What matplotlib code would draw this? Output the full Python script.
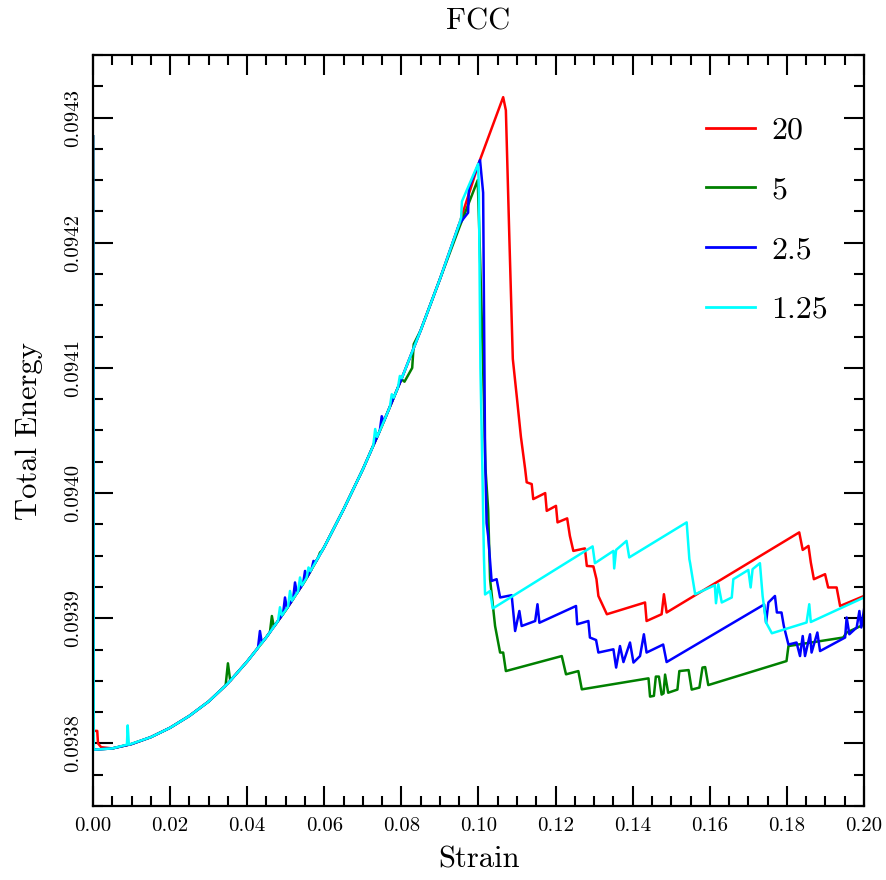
import matplotlib
matplotlib.use("Agg")
import matplotlib.pyplot as plt
from matplotlib.ticker import MultipleLocator, FormatStrFormatter

plt.rcParams['font.family'] = ['cmr10', 'DejaVu Serif']
plt.rcParams['mathtext.fontset'] = 'cm'
plt.rcParams['axes.formatter.use_mathtext'] = True

# ---------------- data ----------------
labels = ["20", "5", "2.5", "1.25"]
colors = ["red", "green", "blue", "cyan"]

red_strain = [0.0, 0.0001, 0.0011, 0.0013, 0.0021, 0.005, 0.010, 0.015, 0.020, 0.025, 0.030, 0.035,
              0.040, 0.045, 0.050, 0.055, 0.060, 0.065, 0.070, 0.075, 0.080, 0.085, 0.090,
              0.095, 0.100, 0.1064, 0.1071, 0.1080, 0.1089, 0.1100, 0.1110, 0.1121, 0.1125,
              0.1138, 0.1142, 0.1173, 0.1177, 0.1201, 0.1205, 0.1230, 0.1237, 0.1246, 0.1276,
              0.1281, 0.1298, 0.1306, 0.1311, 0.1333, 0.1432, 0.1436, 0.1475, 0.1481, 0.1488,
              0.1832, 0.1841, 0.1856, 0.1862, 0.1870, 0.1899, 0.1907, 0.1929, 0.1938, 0.2000]
red_energy = [0.094285, 0.093810, 0.093810, 0.093800, 0.093797, 0.093796, 0.0937995, 0.093805, 0.0938125,
              0.093822, 0.0938335, 0.093848, 0.0938655, 0.093885, 0.0939065, 0.093930, 0.093957,
              0.093987, 0.094019, 0.094054, 0.094091, 0.094130, 0.094171, 0.094215, 0.094263,
              0.0943163, 0.0943058, 0.0942043, 0.0941072, 0.094075, 0.094045, 0.0940192, 0.0940086,
              0.0940072, 0.0939952, 0.0940000, 0.0939858, 0.0939898, 0.0939766, 0.0939798, 0.0939658,
              0.0939538, 0.0939558, 0.0939418, 0.0939414, 0.0939312, 0.0939178, 0.0939032, 0.0939126,
              0.0938978, 0.0939032, 0.0939192, 0.0939046, 0.0939686, 0.0939546, 0.0939578, 0.0939446,
              0.0939312, 0.0939352, 0.0939246, 0.0939246, 0.0939098, 0.0939178]

green_strain = [0.0, 0.0002, 0.005, 0.010, 0.015, 0.020, 0.025, 0.030, 0.0344, 0.0350, 0.0356,
                0.040, 0.045, 0.0459, 0.0464, 0.0469, 0.050, 0.055, 0.0584, 0.0589, 0.0594,
                0.060, 0.065, 0.070, 0.075, 0.080, 0.0808, 0.0828, 0.0832, 0.085, 0.090, 0.095,
                0.0998, 0.1003, 0.1012, 0.1018, 0.1025, 0.1030, 0.1043, 0.1056, 0.1064, 0.1071,
                0.1216, 0.1227, 0.1259, 0.1268, 0.1441, 0.1445, 0.1455, 0.1460, 0.1468, 0.1475,
                0.1480, 0.1484, 0.1492, 0.1516, 0.1521, 0.1545, 0.1553, 0.1573, 0.1581, 0.1588,
                0.1596, 0.1799, 0.1804, 0.1946, 0.1955, 0.2000]
green_energy = [0.094285, 0.093795, 0.093796, 0.0937995, 0.093805, 0.0938125, 0.093822, 0.0938335,
                0.0938463, 0.093864, 0.0938501, 0.0938655, 0.093885, 0.0938889, 0.0939018, 0.0938932,
                0.0939065, 0.093930, 0.0939484, 0.0939526, 0.0939538, 0.093957, 0.093987, 0.094019,
                0.094054, 0.094091, 0.094089, 0.094100, 0.094119, 0.094130, 0.094171, 0.094212,
                0.094250, 0.094200, 0.094100, 0.094020, 0.093987, 0.0939312, 0.0938938, 0.0938726,
                0.0938726, 0.0938578, 0.0938698, 0.0938552, 0.0938578, 0.0938432, 0.0938520, 0.0938374,
                0.0938380, 0.0938534, 0.0938534, 0.0938390, 0.0938400, 0.0938550, 0.0938405, 0.0938430,
                0.0938578, 0.0938586, 0.0938430, 0.0938446, 0.0938606, 0.0938610, 0.0938466, 0.0938658,
                0.0938778, 0.0938846, 0.0938886, 0.0938950]

blue_strain = [0.0, 0.0002, 0.005, 0.010, 0.015, 0.020, 0.025, 0.030, 0.035, 0.040, 0.0428,
               0.0433, 0.0438, 0.045, 0.0493, 0.0498, 0.0503, 0.0519, 0.0524, 0.0529, 0.0545,
               0.0550, 0.0555, 0.0567, 0.0572, 0.0577, 0.060, 0.065, 0.070, 0.0744, 0.0749,
               0.0754, 0.080, 0.085, 0.090, 0.095, 0.0973, 0.0975, 0.1004, 0.1012, 0.1017,
               0.1021, 0.1025, 0.1034, 0.1047, 0.1056, 0.1086, 0.1095, 0.1106, 0.1112, 0.1147,
               0.1153, 0.1158, 0.1253, 0.1256, 0.1285, 0.1289, 0.1305, 0.1311, 0.1350, 0.1357,
               0.1367, 0.1376, 0.1393, 0.1402, 0.1419, 0.1429, 0.1436, 0.1479, 0.1488, 0.1741,
               0.1746, 0.1752, 0.1769, 0.1774, 0.1786, 0.1792, 0.1804, 0.1825, 0.1834, 0.1841,
               0.1847, 0.1860, 0.1864, 0.1879, 0.1886, 0.1951, 0.1955, 0.1962, 0.1981, 0.1988,
               0.1993, 0.2000]
blue_energy = [0.094285, 0.093795, 0.093796, 0.0937995, 0.093805, 0.0938125, 0.093822, 0.0938335,
               0.093848, 0.0938655, 0.0938764, 0.0938898, 0.0938803, 0.093885, 0.0939035, 0.0939166,
               0.0939079, 0.0939154, 0.0939286, 0.0939201, 0.0939276, 0.0939378, 0.0939327, 0.0939392,
               0.0939458, 0.0939446, 0.093957, 0.093987, 0.094019, 0.0940498, 0.0940614, 0.094057,
               0.094091, 0.094130, 0.094171, 0.094215, 0.094224, 0.094244, 0.094266, 0.094240,
               0.094033, 0.093976, 0.0939658, 0.0939298, 0.0939312, 0.0939166, 0.0939184, 0.0938898,
               0.0939058, 0.0938938, 0.0938978, 0.0939112, 0.0938964, 0.0939098, 0.0938952, 0.0938978,
               0.0938846, 0.0938826, 0.0938726, 0.0938752, 0.0938606, 0.0938778, 0.0938650, 0.0938806,
               0.0938646, 0.0938698, 0.0938872, 0.0938726, 0.0938790, 0.0938650, 0.0939110, 0.0938966,
               0.0939126, 0.0939178, 0.0939046, 0.0939046, 0.0938938, 0.0938790, 0.0938806, 0.0938698,
               0.0938858, 0.0938698, 0.0938872, 0.0938726, 0.0938886, 0.0938738, 0.0938846, 0.0939006,
               0.0938872, 0.0938926, 0.0939058, 0.0938926, 0.0939070]

cyan_strain = [0.0, 0.0002, 0.005, 0.0088, 0.0090, 0.0093, 0.015, 0.020, 0.025, 0.030, 0.035,
               0.040, 0.045, 0.0480, 0.0485, 0.0490, 0.0506, 0.0511, 0.0516, 0.0532, 0.0537,
               0.0542, 0.0554, 0.0559, 0.0564, 0.060, 0.065, 0.070, 0.0727, 0.0732, 0.0737,
               0.075, 0.0770, 0.0775, 0.0780, 0.0791, 0.0796, 0.0801, 0.085, 0.090, 0.095,
               0.0955, 0.0957, 0.0999, 0.1001, 0.1005, 0.1010, 0.1014, 0.1017, 0.1030, 0.1037,
               0.1296, 0.1302, 0.1350, 0.1352, 0.1357, 0.1384, 0.1391, 0.1540, 0.1547, 0.1549,
               0.1562, 0.1613, 0.1616, 0.1622, 0.1631, 0.1657, 0.1661, 0.1700, 0.1706, 0.1711,
               0.1730, 0.1737, 0.1746, 0.1761, 0.1851, 0.1858, 0.1862, 0.2000]
cyan_energy = [0.094285, 0.093795, 0.093796, 0.093799, 0.0938144, 0.093799, 0.093805, 0.0938125,
               0.093822, 0.0938335, 0.093848, 0.0938655, 0.093885, 0.0938979, 0.0939088, 0.0939022,
               0.0939093, 0.0939218, 0.0939140, 0.0939215, 0.0939326, 0.0939262, 0.0939322, 0.0939406,
               0.0939376, 0.093957, 0.093987, 0.094019, 0.0940379, 0.0940512, 0.0940449, 0.094054,
               0.0940688, 0.0940790, 0.0940762, 0.0940843, 0.0940936, 0.0940918, 0.094130, 0.094171,
               0.094215, 0.094220, 0.094233, 0.094263, 0.094240, 0.094100, 0.094020, 0.093950,
               0.093919, 0.0939218, 0.0939078, 0.0939574, 0.0939440, 0.0939538, 0.0939398, 0.0939546,
               0.0939618, 0.0939486, 0.0939766, 0.0939472, 0.0939440, 0.0939192, 0.0939264, 0.0939120,
               0.0939272, 0.0939126, 0.0939166, 0.0939312, 0.0939386, 0.0939246, 0.0939392, 0.0939440,
               0.0939178, 0.0938966, 0.0938880, 0.0938966, 0.0939112, 0.0938970, 0.0939166]

series = [(red_strain, red_energy), (green_strain, green_energy),
          (blue_strain, blue_energy), (cyan_strain, cyan_energy)]

# ---------------- figure ----------------
fig = plt.figure(figsize=(8.87, 8.80), dpi=100)
ax = fig.add_axes([93 / 887, 1 - 806 / 880, 771 / 887, 751 / 880])

for (xs, ys), lab, col in zip(series, labels, colors):
    ax.plot(xs, ys, color=col, lw=1.8, label=lab)

ax.set_xlim(0.0, 0.2)
ax.set_ylim(0.09375, 0.09435)
ax.xaxis.set_major_locator(MultipleLocator(0.02))
ax.xaxis.set_minor_locator(MultipleLocator(0.005))
ax.yaxis.set_major_locator(MultipleLocator(0.0001))
ax.yaxis.set_minor_locator(MultipleLocator(0.000025))
ax.xaxis.set_major_formatter(FormatStrFormatter('%.2f'))
ax.yaxis.set_major_formatter(FormatStrFormatter('%.4f'))

ax.tick_params(which='both', direction='in', top=True, right=True, width=1.5, labelsize=15)
ax.tick_params(which='major', length=14.5)
ax.tick_params(which='minor', length=7.5)
ax.tick_params(axis='x', pad=8)
ax.tick_params(axis='y', pad=8)
for lbl in ax.get_yticklabels():
    lbl.set_rotation(90)
    lbl.set_va('center')
for sp in ax.spines.values():
    sp.set_linewidth(1.6)

ax.set_xlabel('Strain', fontsize=22, labelpad=8)
ax.set_ylabel('Total Energy', fontsize=22, labelpad=15)
ax.set_title('FCC', fontsize=22, pad=18)

leg = ax.legend(loc='upper left', bbox_to_anchor=(0.795, 0.918), frameon=False,
                fontsize=23, handlelength=1.55, handletextpad=0.5, labelspacing=0.98,
                borderpad=0.0, borderaxespad=0.0)
for h in leg.get_lines():
    h.set_linewidth(2.0)

fig.savefig('out.png', dpi=100)
